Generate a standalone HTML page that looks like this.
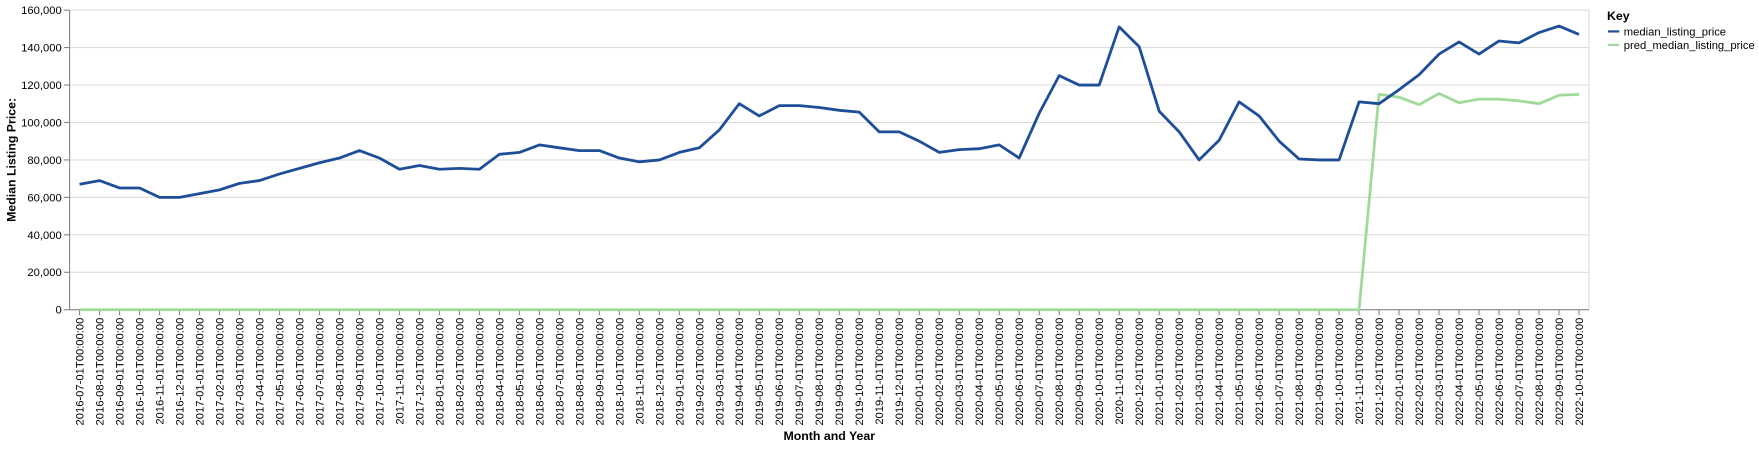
<!DOCTYPE html>
<html><head><meta charset="utf-8"><style>
body{margin:0;background:#fff;overflow:hidden;}
svg text{font-family:"Liberation Sans",Arial,sans-serif;}
</style></head><body>
<svg id="chart" width="1759" height="447" viewBox="0 0 1567.5 398.3" preserveAspectRatio="none" xmlns="http://www.w3.org/2000/svg"></svg>
<script>
const months = [];
for (let y = 2016, m = 7; !(y === 2022 && m === 11); ) {
  months.push(y + '-' + String(m).padStart(2, '0') + '-01T00:00:00');
  m++; if (m > 12) { m = 1; y++; }
}
const medianPrice = [67000,69000,65000,65000,60000,60000,62000,64000,67500,69000,72500,75500,78500,81000,85000,81000,75000,77000,75000,75500,75000,83000,84000,88000,86500,85000,85000,81000,79000,80000,84000,86500,96000,110000,103500,109000,109000,108000,106500,105500,95000,95000,90000,84000,85500,86000,88000,81000,105000,125000,120000,120000,151000,140500,106000,95000,80000,90500,111000,103500,90000,80500,80000,80000,111000,110000,117500,125500,136500,143000,136500,143500,142500,148000,151500,147000];
const predPrice = [0,0,0,0,0,0,0,0,0,0,0,0,0,0,0,0,0,0,0,0,0,0,0,0,0,0,0,0,0,0,0,0,0,0,0,0,0,0,0,0,0,0,0,0,0,0,0,0,0,0,0,0,0,0,0,0,0,0,0,0,0,0,0,0,0,115000,113500,109500,115500,110500,112500,112500,111500,110000,114500,115000];
const yTicks = [0,20000,40000,60000,80000,100000,120000,140000,160000];

const svg = document.getElementById('chart');
const NS = 'http://www.w3.org/2000/svg';
const L = 62, R = 1416, T = 9, B = 276, YMAX = 160000;
const step = (R - L) / months.length;
const xS = i => L + step * (i + 0.5);
const yS = v => B - v / YMAX * (B - T);
function mk(tag, attrs, parent) {
  const e = document.createElementNS(NS, tag);
  for (const k in attrs) e.setAttribute(k, attrs[k]);
  (parent || svg).appendChild(e);
  return e;
}
yTicks.forEach(v => {
  const g = mk('line', {x1: L, x2: R, y1: yS(v), y2: yS(v), stroke: '#ddd', 'stroke-width': 1});
  
  
  mk('line', {x1: L - 5, x2: L, y1: yS(v), y2: yS(v), stroke: '#888'});
  const t = mk('text', {x: L - 7, y: yS(v) + 3.5, 'text-anchor': 'end', 'font-size': 10, fill: '#000'});
  t.textContent = v.toLocaleString('en-US');
  
  
});
mk('line', {x1: R, x2: R, y1: T, y2: B, stroke: '#ddd'});
mk('line', {x1: L, x2: L, y1: T, y2: B, stroke: '#888'});
mk('line', {x1: L, x2: R, y1: B, y2: B, stroke: '#888'});
months.forEach((m, i) => {
  const x = xS(i);
  mk('line', {x1: x, x2: x, y1: B, y2: B + 5, stroke: '#888'});
  const t = mk('text', {x: 0, y: 0, 'text-anchor': 'end', 'font-size': 10, fill: '#000', transform: `translate(${x + 3.5},${B + 7}) rotate(-90)`});
  t.textContent = m;
  
  
});
function line(vals, color, name) {
  const d = vals.map((v, i) => (i ? 'L' : 'M') + xS(i).toFixed(1) + ',' + yS(v).toFixed(1)).join('');
  const p = mk('path', {d, fill: 'none', stroke: color, 'stroke-width': 2.5, 'stroke-linejoin': 'round'});
  
  
}
line(predPrice, '#a1d99b', 'pred-median-listing-price-line');
line(medianPrice, '#1f4e99', 'median-listing-price-line');
const xt = mk('text', {x: (L + R) / 2, y: 392, 'text-anchor': 'middle', 'font-size': 11, 'font-weight': 'bold'});
xt.textContent = 'Month and Year';


const yt = mk('text', {x: 0, y: 0, 'text-anchor': 'middle', 'font-size': 11, 'font-weight': 'bold', transform: `translate(14,${(T + B) / 2}) rotate(-90)`});
yt.textContent = 'Median Listing Price:';


const lg = mk('g', {});


const kt = mk('text', {x: 1432, y: 18, 'font-size': 11, 'font-weight': 'bold'}, lg);
kt.textContent = 'Key';
[['median_listing_price', '#1f4e99'], ['pred_median_listing_price', '#a1d99b']].forEach((e, i) => {
  const y = 28 + i * 12;
  const g = mk('g', {}, lg);
  
  
  mk('line', {x1: 1433, x2: 1443, y1: y, y2: y, stroke: e[1], 'stroke-width': 2}, g);
  const t = mk('text', {x: 1447, y: y + 3.5, 'font-size': 10}, g);
  t.textContent = e[0];
});
</script>
</body></html>
